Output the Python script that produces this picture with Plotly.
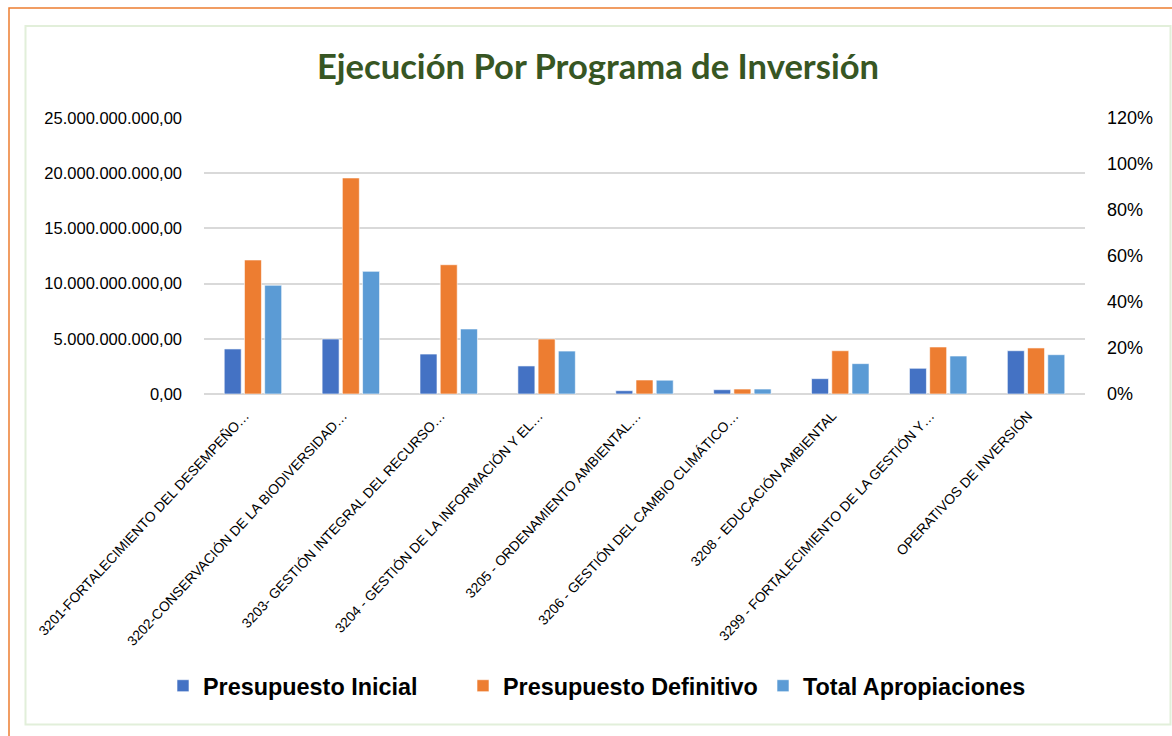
import plotly.graph_objects as go

categories = [
    "3201-FORTALECIMIENTO DEL DESEMPEÑO…",
    "3202-CONSERVACIÓN DE LA BIODIVERSIDAD…",
    "3203- GESTIÓN INTEGRAL DEL RECURSO…",
    "3204 - GESTIÓN DE LA INFORMACIÓN Y EL…",
    "3205 - ORDENAMIENTO AMBIENTAL…",
    "3206 - GESTIÓN DEL CAMBIO CLIMÁTICO…",
    "3208 - EDUCACIÓN AMBIENTAL",
    "3299 - FORTALECIMIENTO DE LA GESTIÓN Y…",
    "OPERATIVOS DE INVERSIÓN",
]
presupuesto_inicial = [4.08e9, 4.98e9, 3.62e9, 2.54e9, 0.30e9, 0.39e9, 1.39e9, 2.33e9, 3.92e9]
presupuesto_definitivo = [12.14e9, 19.57e9, 11.71e9, 4.98e9, 1.27e9, 0.45e9, 3.92e9, 4.26e9, 4.17e9]
total_apropiaciones = [9.85e9, 11.11e9, 5.89e9, 3.89e9, 1.25e9, 0.45e9, 2.75e9, 3.44e9, 3.56e9]

series = [
    ("Presupuesto Inicial", presupuesto_inicial, "#4472C4"),
    ("Presupuesto Definitivo", presupuesto_definitivo, "#ED7D31"),
    ("Total Apropiaciones", total_apropiaciones, "#5B9BD5"),
]

W, H = 1172, 736
L, R, T, B = 204, 1085, 118, 394

def px(x):
    return (x - L) / (R - L)

def py(y):
    return (B - y) / (B - T)

fig = go.Figure()
for name, vals, col in series:
    fig.add_trace(go.Bar(
        x=categories, y=vals, name=name,
        marker=dict(color=col, line=dict(color="rgba(255,255,255,0.6)", width=1)),
    ))
# secondary axis (percent) carrier
fig.add_trace(go.Scatter(x=[], y=[], yaxis="y2", showlegend=False, hoverinfo="skip"))

cond = "Liberation Sans Narrow, Liberation Sans, Arial, sans-serif"

fig.update_layout(
    width=W, height=H,
    margin=dict(l=L, r=W - R, t=T, b=H - B),
    paper_bgcolor="white", plot_bgcolor="white",
    separators=",.",
    barmode="group", bargap=0.38, bargroupgap=0.16,
    title=dict(
        text="<b>Ejecución Por Programa de Inversión</b>",
        x=598 / W, xanchor="center", xref="container",
        y=1 - 67 / H, yanchor="middle", yref="container",
        font=dict(family="Lato, Open Sans, sans-serif", size=34.6, color="#375623"),
    ),
    xaxis=dict(
        tickangle=-47, showgrid=False, showline=False, ticks="",
        ticklabelshift=-8, ticklabelstandoff=10,
        tickfont=dict(family=cond, size=13.8, color="#000000"),
    ),
    yaxis=dict(
        range=[0, 25e9], dtick=5e9, tickformat=",.2f",
        showgrid=True, gridcolor="#D9D9D9", gridwidth=1.5,
        zeroline=True, zerolinecolor="#D9D9D9", zerolinewidth=1.5,
        showline=False, ticks="", ticklabelstandoff=21,
        tickfont=dict(family=cond, size=16.5, color="#000000"),
    ),
    yaxis2=dict(
        overlaying="y", side="right", range=[0, 1.2], dtick=0.2, tickformat=".0%",
        showgrid=False, zeroline=False, showline=False, ticks="", ticklabelstandoff=21,
        tickfont=dict(family=cond, size=18, color="#000000"),
    ),
    legend=dict(
        orientation="h", x=px(163), xanchor="left", y=py(686), yanchor="middle",
        font=dict(family=cond, size=23.4, color="#000000", weight="bold"),
        itemwidth=30, traceorder="normal", entrywidth=255, entrywidthmode="pixels",
    ),
    shapes=[
        dict(type="rect", xref="paper", yref="paper",
             x0=px(9), x1=px(1190), y0=py(8), y1=py(760),
             line=dict(color="#ED7D31", width=1.5), fillcolor="rgba(0,0,0,0)", layer="below"),
        dict(type="rect", xref="paper", yref="paper",
             x0=px(25.5), x1=px(1170.5), y0=py(26), y1=py(724.5),
             line=dict(color="#E2EFDA", width=2), fillcolor="rgba(0,0,0,0)", layer="below"),
    ],
)

fig.write_html(
    "out.html",
    config={"displayModeBar": False},
    post_script="document.body.style.margin='0';document.body.style.overflow='hidden';",
)
